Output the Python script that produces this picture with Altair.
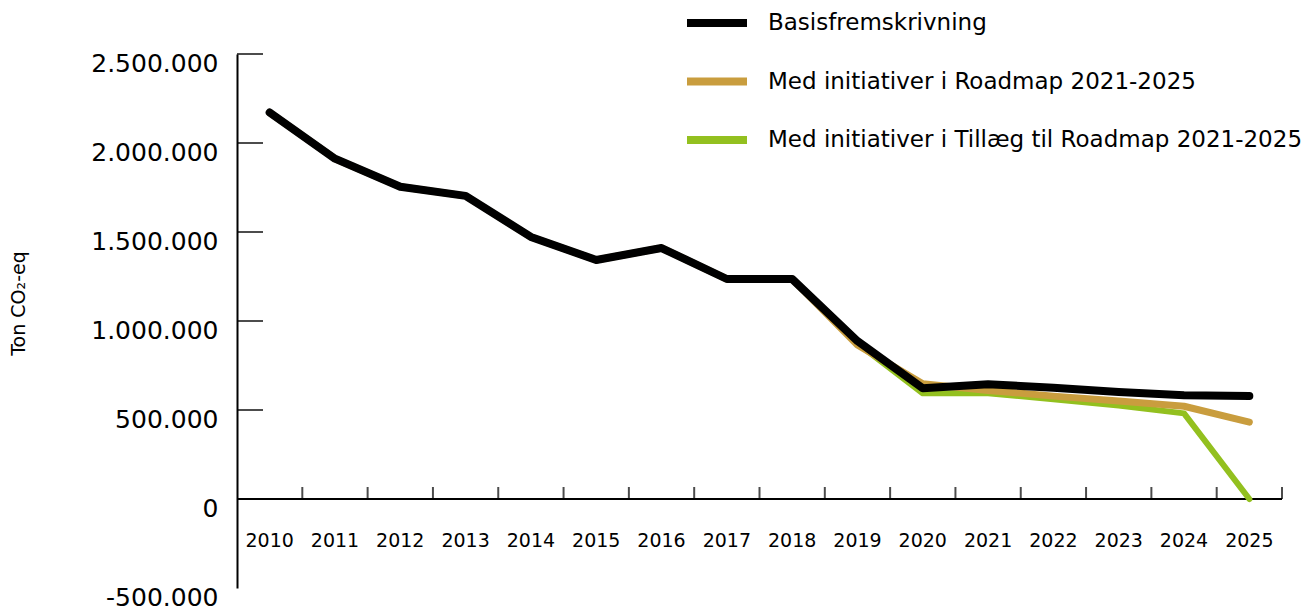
import altair as alt
import pandas as pd

years = list(range(2010, 2026))
series_names = [
    "Basisfremskrivning",
    "Med initiativer i Roadmap 2021-2025",
    "Med initiativer i Tillæg til Roadmap 2021-2025",
]
basis = [2171000, 1912000, 1754000, 1703000, 1472000, 1343000, 1410000, 1236000,
         1236000, 887000, 622000, 645000, 625000, 601000, 583000, 579000]
roadmap = [2171000, 1912000, 1754000, 1703000, 1472000, 1343000, 1410000, 1236000,
           1236000, 865000, 648000, 610000, 578000, 550000, 521000, 432000]
tillaeg = [2171000, 1912000, 1754000, 1703000, 1472000, 1343000, 1410000, 1236000,
           1236000, 875000, 594000, 594000, 560000, 525000, 481000, 0]
colors = ["#000000", "#C99D3E", "#93C01F"]
widths = [8, 7, 6]
y_ticks = [-500000, 0, 500000, 1000000, 1500000, 2000000, 2500000]
y_title = "Ton CO₂-eq"

rows = []
for name, vals in zip(series_names, [basis, roadmap, tillaeg]):
    for yr, v in zip(years, vals):
        rows.append({"year": yr, "value": v, "series": name})
df = pd.DataFrame(rows)

x_scale = alt.Scale(domain=[years[0] - 0.5, years[-1] + 0.5], nice=False, zero=False)
y_scale = alt.Scale(domain=[y_ticks[0], y_ticks[-1]], nice=False)

y_axis = alt.Axis(
    values=y_ticks,
    labelExpr="replace(replace(format(datum.value, ',d'), regexp(',', 'g'), '.'), '\u2212', '-')",
    domain=True, domainColor="black", domainWidth=2,
    ticks=False, grid=False,
    labelPadding=19, labelOffset=9, labelFontSize=25, labelColor="black",
    labelFont="DejaVu Sans",
    title=y_title, titleFontSize=19, titleFontWeight="normal", titleFont="DejaVu Sans",
    titleColor="black", titleX=-219, titleY=249, titleBaseline="middle", titleAngle=-90,
)

color = alt.Color(
    "series:N",
    scale=alt.Scale(domain=series_names, range=colors),
    sort=series_names,
    legend=alt.Legend(
        orient="none", legendX=446, legendY=-65, title=None,
        symbolType="stroke", symbolSize=3600, symbolStrokeWidth=8,
        labelFontSize=23, labelFont="DejaVu Sans", labelColor="black",
        labelOffset=17, rowPadding=8.5, labelLimit=1000,
    ),
)

base = alt.Chart(df)

def line(i):
    return base.transform_filter(alt.datum.series == series_names[i]).mark_line(
        strokeWidth=widths[i], strokeCap="round", strokeJoin="round"
    ).encode(
        x=alt.X("year:Q", scale=x_scale, axis=None),
        y=alt.Y("value:Q", scale=y_scale, axis=y_axis),
        color=color,
    )

zero_line = alt.Chart(pd.DataFrame({"z": [0]})).mark_rule(color="black", strokeWidth=2).encode(
    y=alt.Y("z:Q", scale=y_scale, axis=y_axis)
)

bounds_df = pd.DataFrame({"b": [yr + 0.5 for yr in years]})
x_tick_marks = alt.Chart(bounds_df).mark_tick(
    orient="vertical", size=12, thickness=2, color="black", yOffset=-6
).encode(
    x=alt.X("b:Q", scale=x_scale, axis=None),
    y=alt.datum(0),
)

yt_df = pd.DataFrame({"t": y_ticks})
y_tick_marks = alt.Chart(yt_df).transform_filter(alt.datum.t > 0).mark_tick(
    orient="horizontal", size=26, thickness=2, color="black"
).encode(
    y=alt.Y("t:Q", scale=y_scale, axis=y_axis),
    x=alt.value(13),
)

labels_df = pd.DataFrame({"year": years})
x_labels = alt.Chart(labels_df).mark_text(
    dy=42, fontSize=19, font="DejaVu Sans", color="black", baseline="middle"
).encode(
    x=alt.X("year:Q", scale=x_scale, axis=None),
    y=alt.datum(0),
    text=alt.Text("year:N"),
)

chart = alt.layer(
    zero_line, x_tick_marks, y_tick_marks, x_labels, line(2), line(1), line(0)
).properties(
    width=1045, height=534,
    padding={"left": 229, "top": 46, "right": 20, "bottom": 24},
    autosize=alt.AutoSizeParams(type="none"),
).configure_view(stroke=None)

chart.save("out.html", embed_options={"renderer": "svg", "actions": False})
